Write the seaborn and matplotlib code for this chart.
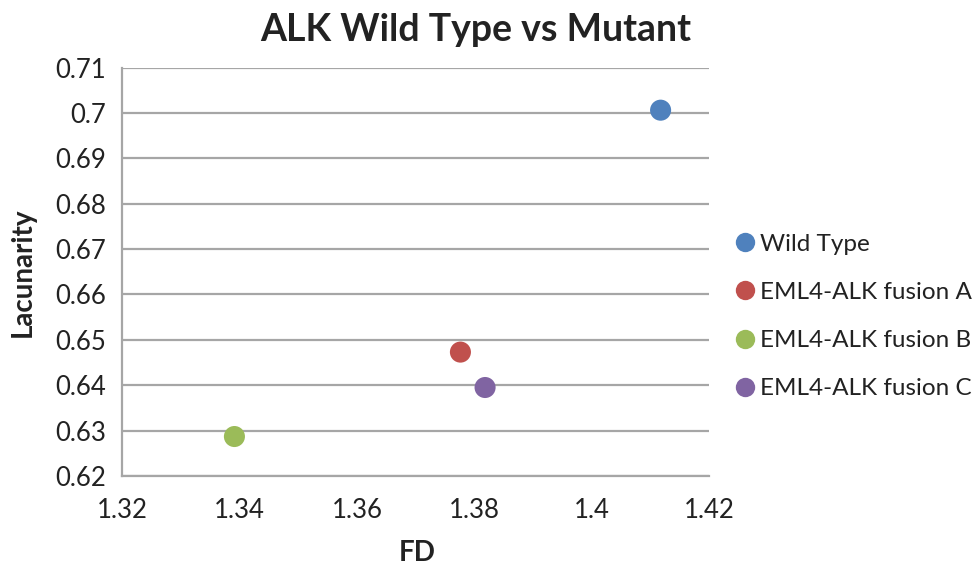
import matplotlib
matplotlib.use("Agg")
import matplotlib.pyplot as plt
import seaborn as sns
import pandas as pd

groups = ["Wild Type", "EML4-ALK fusion A", "EML4-ALK fusion B", "EML4-ALK fusion C"]
fd = [1.4117, 1.3776, 1.3391, 1.3818]
lacunarity = [0.7006, 0.6473, 0.6287, 0.6395]
colors = ["#4F81BD", "#C0504D", "#9BBB59", "#8064A2"]
x_ticks = [1.32, 1.34, 1.36, 1.38, 1.4, 1.42]
x_labels = ["1.32", "1.34", "1.36", "1.38", "1.4", "1.42"]
y_ticks = [0.62, 0.63, 0.64, 0.65, 0.66, 0.67, 0.68, 0.69, 0.7, 0.71]
y_labels = ["0.62", "0.63", "0.64", "0.65", "0.66", "0.67", "0.68", "0.69", "0.7", "0.71"]

df = pd.DataFrame({"FD": fd, "Lacunarity": lacunarity, "Group": groups})

sns.set_theme(style="white")
plt.rcParams["font.family"] = ["Lato", "DejaVu Sans"]

fig = plt.figure(figsize=(9.73, 5.65), dpi=100)
ax = fig.add_axes([0.1257, 0.1575, 0.729 - 0.1257, 0.8805 - 0.1575])

sns.scatterplot(data=df, x="FD", y="Lacunarity", hue="Group", hue_order=groups,
                palette=colors, s=230, edgecolor="none", linewidth=0, ax=ax, zorder=3)

grid_c = "#A6A6A6"
txt_c = "#222222"
ax.set_xlim(1.32, 1.42)
ax.set_ylim(0.62, 0.71)
ax.set_xticks(x_ticks)
ax.set_xticklabels(x_labels)
ax.set_yticks(y_ticks)
ax.set_yticklabels(y_labels)
ax.yaxis.grid(True, color=grid_c, linewidth=1.6)
ax.xaxis.grid(False)
for s in ["top", "right"]:
    ax.spines[s].set_visible(False)
for s in ["left", "bottom"]:
    ax.spines[s].set_color(grid_c)
    ax.spines[s].set_linewidth(1.6)
ax.tick_params(axis="both", which="major", direction="out", length=6, width=1.6,
               color=grid_c, labelsize=18.5, labelcolor=txt_c, pad=6)
ax.tick_params(axis="x", pad=10)

ax.set_xlabel("")
ax.set_ylabel("")
fig.text(417 / 973, 1 - 553 / 565, "FD", fontsize=20, fontweight="bold", color=txt_c,
         ha="center", va="center")
fig.text(23 / 973, 1 - 272 / 565, "Lacunarity", fontsize=20, fontweight="bold", color=txt_c,
         ha="center", va="center", rotation=90)
fig.text(0.4887, 1 - 41 / 565, "ALK Wild Type vs Mutant", fontsize=27,
         fontweight="bold", color=txt_c, ha="center", va="baseline")

leg = ax.legend(loc="center left", bbox_to_anchor=(0.741, 0.44), bbox_transform=fig.transFigure,
                frameon=False, fontsize=17.5, markerscale=0.92, handletextpad=0.0,
                labelspacing=1.12, borderaxespad=0, handlelength=1.2, labelcolor=txt_c)

fig.savefig("out.png", dpi=100)
